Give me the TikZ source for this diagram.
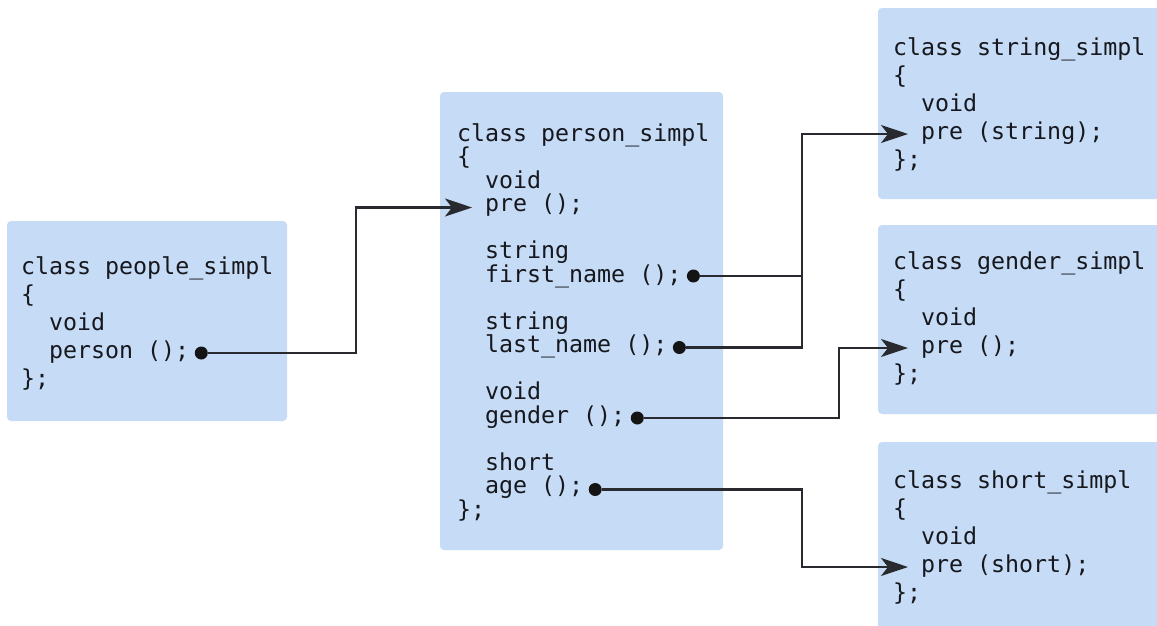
\documentclass[tikz,border=0pt]{standalone}
\usepackage{fontspec}
\setmonofont{DejaVu Sans Mono}
\usetikzlibrary{arrows.meta}
\definecolor{boxblue}{RGB}{198,219,245}
\definecolor{ink}{RGB}{22,24,30}
\definecolor{wire}{RGB}{40,42,48}
\begin{document}
\begin{tikzpicture}[x=1pt,y=-1pt,
  classbox/.style={fill=boxblue, rounded corners=4pt},
  code/.style={anchor=base west, inner sep=0pt, outer sep=0pt, font=\ttfamily\fontsize{23.3}{28}\selectfont, text=ink},
  dotmark/.style={circle, fill=black!92, inner sep=0pt, minimum size=13pt},
  link/.style={draw=wire, line width=2.2pt},
  conn/.style={link, -{Stealth[length=27pt,width=18pt,inset=7pt]}}]
\useasboundingbox (0,0) rectangle (1157,625);
\fill[white] (0,0) rectangle (1157,625);
% boxes
\path[classbox] (7,221) rectangle (287,421);
\path[classbox] (440,92) rectangle (723,550);
\path[classbox] (878,8) rectangle (1170,199);
\path[classbox] (878,225) rectangle (1170,414);
\path[classbox] (878,442) rectangle (1170,640);
% people_simpl
\node[code] (pa) at (21,274) {class people\_simpl};
\node[code] (pb) at (21,302) {\{};
\node[code] (pc) at (49,330) {void};
\node[code] (pd) at (49,358) {person ();};
\node[code] (pe) at (21,386) {\};};
% person_simpl
\node[code] (qa) at (457,141) {class person\_simpl};
\node[code] (qb) at (457,164.5) {\{};
\node[code] (qc) at (485,188) {void};
\node[code] (qd) at (485,211.5) {pre ();};
\node[code] (qe) at (485,258.5) {string};
\node[code] (qf) at (485,282) {first\_name ();};
\node[code] (qg) at (485,329) {string};
\node[code] (qh) at (485,352.5) {last\_name ();};
\node[code] (qi) at (485,399.5) {void};
\node[code] (qj) at (485,423) {gender ();};
\node[code] (qk) at (485,470) {short};
\node[code] (ql) at (485,493.5) {age ();};
\node[code] (qm) at (457,517) {\};};
% string_simpl
\node[code] (sa) at (893,55) {class string\_simpl};
\node[code] (sb) at (893,83) {\{};
\node[code] (sc) at (921,111) {void};
\node[code] (sd) at (921,139) {pre (string);};
\node[code] (se) at (893,167) {\};};
% gender_simpl
\node[code] (ga) at (893,269) {class gender\_simpl};
\node[code] (gb) at (893,297) {\{};
\node[code] (gc) at (921,325) {void};
\node[code] (gd) at (921,353) {pre ();};
\node[code] (ge) at (893,381) {\};};
% short_simpl
\node[code] (ha) at (893,488) {class short\_simpl};
\node[code] (hb) at (893,516) {\{};
\node[code] (hc) at (921,544) {void};
\node[code] (hd) at (921,572) {pre (short);};
\node[code] (he) at (893,600) {\};};
% dots
\node[dotmark] (d0) at ([xshift=12pt,yshift=5pt]pd.base east) {};
\node[dotmark] (d1) at ([xshift=12pt,yshift=6pt]qf.base east) {};
\node[dotmark] (d2) at ([xshift=12pt,yshift=5pt]qh.base east) {};
\node[dotmark] (d3) at ([xshift=12pt,yshift=5pt]qj.base east) {};
\node[dotmark] (d4) at ([xshift=12pt,yshift=4pt]ql.base east) {};
% arrow targets
\coordinate (t0) at ([xshift=-13pt,yshift=4pt]qd.base west);
\coordinate (t1) at ([xshift=-13pt,yshift=5pt]sd.base west);
\coordinate (t2) at ([xshift=-13pt,yshift=5pt]gd.base west);
\coordinate (t3) at ([xshift=-13pt,yshift=5pt]hd.base west);
% vertical runs
\coordinate (v0) at (356,0);
\coordinate (v1) at (802,0);
\coordinate (v2) at (839,0);
% connectors
\draw[conn] (d0) -- (d0 -| v0) -- (t0 -| v0) -- (t0);
\draw[conn] (d1) -- (d1 -| v1) -- (t1 -| v1) -- (t1);
\draw[link] (d2) -- (d2 -| v1) -- (d1 -| v1);
\draw[conn] (d3) -- (d3 -| v2) -- (t2 -| v2) -- (t2);
\draw[conn] (d4) -- (d4 -| v1) -- (t3 -| v1) -- (t3);
\end{tikzpicture}
\end{document}
